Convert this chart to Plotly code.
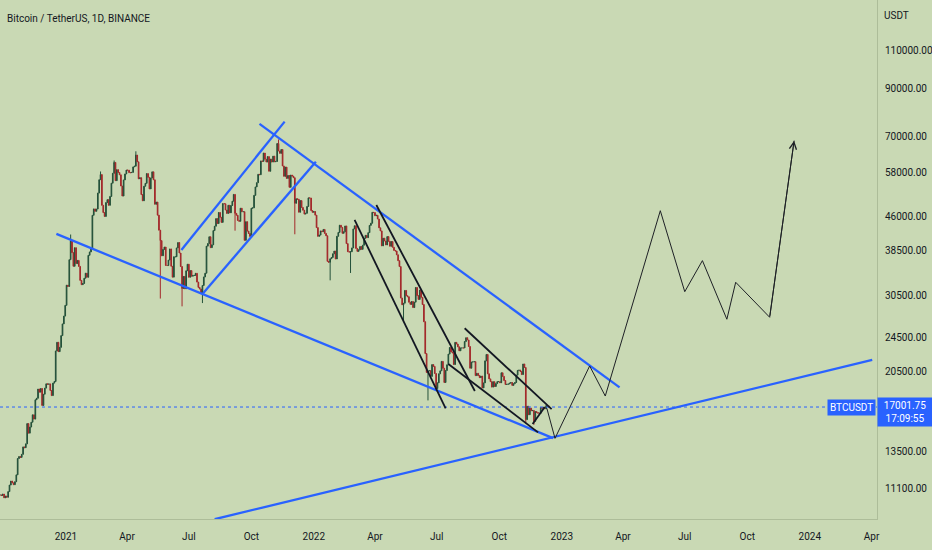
import numpy as np
import pandas as pd
import plotly.graph_objects as go

# BTC/USDT closes (thousands USDT), one value every 2 days from 2020-09-26
close_2020 = [
    10.73, 10.70, 10.78,  # Sep
    10.57, 10.67, 10.60, 10.92, 11.30, 11.54, 11.43, 11.32, 11.50, 11.92, 12.98, 13.12, 13.06, 13.27, 13.80,  # Oct
    13.74, 14.02, 15.59, 14.83, 15.31, 15.70, 16.32, 15.96, 17.66, 17.80, 18.68, 18.38, 18.73, 17.14, 18.18,  # Nov
    18.77, 19.20, 19.15, 19.19, 18.54, 18.05, 19.27, 19.43, 22.80, 23.86, 22.72, 23.24, 24.71, 26.27, 27.37, 28.95,  # Dec
]
close_2021 = [
    32.17, 31.97, 36.77, 40.58, 38.15, 35.52, 39.15, 36.02, 36.63, 35.50, 32.99, 32.26, 32.47, 33.37, 34.26,  # Jan
    33.54, 37.62, 38.29, 38.89, 46.39, 47.97, 47.37, 47.93, 52.12, 55.89, 57.41, 48.89, 47.05, 46.11,  # Feb
    49.59, 50.35, 48.88, 51.21, 54.88, 57.80, 61.18, 55.61, 58.91, 58.03, 57.35, 54.08, 51.31, 55.82, 57.60, 58.79,  # Mar
    58.75, 58.00, 57.99, 58.08, 59.77, 59.99, 63.58, 61.37, 56.15, 56.47, 51.70, 50.05, 54.02, 54.83, 57.70,  # Apr
    56.58, 53.25, 56.40, 58.24, 55.86, 49.15, 49.72, 46.43, 42.91, 40.63, 37.53, 38.80, 39.29, 35.68, 35.66,  # May
    36.69, 38.90, 35.52, 33.56, 37.34, 37.34, 39.10, 40.22, 38.08, 35.48, 31.64, 33.68, 31.58, 34.70, 35.91,  # Jun
    33.54, 34.73, 33.72, 33.86, 33.86, 34.24, 32.70, 31.80, 31.53, 30.84, 32.12, 33.59, 34.26, 39.47, 40.01, 41.46,  # Jul
    39.16, 39.75, 42.82, 43.81, 45.59, 44.43, 47.08, 45.90, 44.70, 49.32, 49.27, 47.69, 46.85, 48.89, 46.99,  # Aug
    48.83, 49.94, 51.75, 46.86, 46.40, 45.16, 44.96, 48.14, 47.27, 47.28, 40.69, 44.86, 42.70, 42.17, 41.53,  # Sep
    48.14, 48.23, 51.49, 53.81, 55.02, 57.49, 57.37, 61.67, 61.53, 64.28, 62.21, 61.31, 63.08, 58.42, 62.25, 61.30,  # Oct
    63.23, 61.38, 61.50, 67.55, 64.95, 64.16, 65.47, 60.06, 56.89, 59.70, 56.28, 57.14, 53.71, 57.27, 56.95,  # Nov
    56.48, 49.40, 50.58, 50.44, 47.14, 50.10, 48.34, 47.64, 46.68, 46.88, 48.59, 50.82, 50.77, 47.54, 47.12,  # Dec
]
close_2022 = [
    47.31, 46.43, 43.50, 41.55, 41.82, 42.74, 42.59, 43.08, 42.20, 41.67, 36.45, 36.28, 36.95, 37.20, 37.92, 38.47,  # Jan
    36.90, 41.57, 42.41, 44.04, 43.55, 42.21, 42.54, 43.87, 40.00, 38.35, 38.26, 38.33, 39.10, 43.19,  # Feb
    43.92, 39.00, 38.40, 38.73, 39.39, 38.81, 39.67, 41.12, 41.77, 41.27, 42.36, 44.00, 44.51, 47.12, 47.06,  # Mar
    46.28, 46.40, 45.50, 43.44, 42.75, 39.53, 41.15, 40.55, 39.72, 41.50, 40.48, 39.45, 40.43, 39.24, 38.60,  # Apr
    38.47, 37.72, 36.58, 35.47, 30.08, 29.03, 29.28, 31.30, 30.45, 30.29, 29.43, 29.10, 29.54, 28.62, 29.44, 31.79,  # May
    30.47, 29.86, 31.37, 30.19, 29.08, 26.57, 22.49, 20.38, 20.55, 20.57, 19.96, 21.23, 21.03, 20.26, 18.73,  # Jun
    19.30, 20.23, 20.55, 21.59, 20.83, 19.33, 20.58, 21.21, 22.43, 23.22, 22.69, 22.58, 21.24, 23.85, 23.64,  # Jul
    23.30, 22.82, 23.17, 23.17, 23.16, 23.95, 24.44, 24.15, 23.34, 20.83, 21.52, 21.53, 21.56, 20.04, 20.28, 20.05,  # Aug
    19.83, 19.99, 18.79, 19.29, 21.65, 22.39, 20.23, 19.70, 19.42, 18.87, 19.41, 18.93, 19.22, 19.42, 19.42,  # Sep
    19.31, 20.34, 19.96, 19.53, 19.13, 19.15, 19.18, 19.26, 19.33, 19.04, 19.21, 19.33, 20.09, 20.59, 20.63,  # Oct
    20.48, 20.15, 21.30, 20.91, 15.92, 17.07, 16.33, 16.90, 16.67, 16.70, 15.78, 16.60, 16.52, 16.46, 16.44,  # Nov
    16.97, 16.89, 16.97, 16.84, 17.13, 17.09, 17.00,  # Dec
]

# notable wick extremes (thousands)
wick_highs = {"2021-01-08": 41.95, "2021-02-21": 58.35, "2021-03-13": 61.80,
              "2021-04-14": 64.85, "2021-11-10": 69.00}
wick_lows = {"2021-05-20": 30.00, "2021-06-21": 28.80, "2021-07-21": 29.30,
             "2021-09-07": 42.80, "2021-12-04": 42.00, "2022-01-25": 33.00,
             "2022-02-24": 34.30, "2022-05-13": 26.70, "2022-06-18": 17.60,
             "2022-11-09": 15.60, "2022-11-21": 15.50}

last_price = 17001.75

# drawn trend lines (date, price)
wedge_low_dates = ["2020-12-18", "2022-12-19"]
wedge_low_prices = [42080, 14450]
support_dates = ["2021-08-08", "2024-04-02"]
support_prices = [9450, 21750]
wedge_high_dates = ["2021-10-13", "2023-03-27"]
wedge_high_prices = [74860, 18850]
chan_top_dates = ["2021-06-20", "2021-11-19"]
chan_top_prices = [38680, 75760]
chan_bot_dates = ["2021-07-22", "2022-01-04"]
chan_bot_prices = [30840, 61430]

black_a_dates = ["2022-04-03", "2022-08-26"]
black_a_prices = [48960, 18490]
black_b_dates = ["2022-03-02", "2022-07-14"]
black_b_prices = [45270, 16890]
black_c_dates = ["2022-07-18", "2022-11-27"]
black_c_prices = [21300, 14890]
black_d_dates = ["2022-08-11", "2022-12-17"]
black_d_prices = [25680, 16820]
black_e_dates = ["2022-11-19", "2022-12-07"]
black_e_prices = [15550, 17000]

path_dates = ["2022-12-10", "2022-12-22", "2023-02-11", "2023-03-06", "2023-05-26", "2023-07-01",
              "2023-07-27", "2023-09-01", "2023-09-14", "2023-11-03", "2023-12-09"]
path_prices = [16890, 14430, 21080, 18010, 47520, 31100, 36590, 26920, 32670, 27200, 68580]

y_ticks = [11100, 13500, 20500, 24500, 30500, 38500, 46000, 58000, 70000, 90000, 110000]
x_ticks = ["2021-01-01", "2021-04-01", "2021-07-01", "2021-10-01", "2022-01-01", "2022-04-01",
           "2022-07-01", "2022-10-01", "2023-01-01", "2023-04-01", "2023-07-01", "2023-10-01",
           "2024-01-01", "2024-04-01"]
x_labels = ["2021", "Apr", "Jul", "Oct", "2022", "Apr", "Jul", "Oct", "2023", "Apr", "Jul", "Oct", "2024", "Apr"]

BG = "#c9d9b4"
BLUE = "#2962ff"
FONT = "Roboto, Arial, sans-serif"
TXT = "#131722"

closes = np.array(close_2020 + close_2021 + close_2022) * 1000
dates = pd.date_range("2020-09-26", periods=len(closes), freq="2D")
opens = np.concatenate([[closes[0]], closes[:-1]])
highs = np.maximum(opens, closes)
lows = np.minimum(opens, closes)
idx = {d.strftime("%Y-%m-%d"): i for i, d in enumerate(dates)}
for d, v in wick_highs.items():
    if d in idx:
        highs[idx[d]] = max(highs[idx[d]], v * 1000)
for d, v in wick_lows.items():
    if d in idx:
        lows[idx[d]] = min(lows[idx[d]], v * 1000)

fig = go.Figure()
fig.add_trace(go.Candlestick(
    x=dates, open=opens, high=highs, low=lows, close=closes,
    increasing=dict(line=dict(color="#24513a", width=1), fillcolor="#24513a"),
    decreasing=dict(line=dict(color="#a3282a", width=1), fillcolor="#a3282a"),
    whiskerwidth=0, showlegend=False, hoverinfo="skip",
))

x_range = ["2020-09-26", "2024-04-09"]
fig.add_trace(go.Scatter(x=x_range, y=[last_price, last_price], mode="lines",
                         line=dict(color=BLUE, width=1, dash="dot"), showlegend=False))

blue_lines = [(wedge_low_dates, wedge_low_prices), (support_dates, support_prices),
              (wedge_high_dates, wedge_high_prices), (chan_top_dates, chan_top_prices),
              (chan_bot_dates, chan_bot_prices)]
for xs, ys in blue_lines:
    fig.add_trace(go.Scatter(x=xs, y=ys, mode="lines", line=dict(color=BLUE, width=2.3),
                             showlegend=False))

black_lines = [(black_a_dates, black_a_prices), (black_b_dates, black_b_prices),
               (black_c_dates, black_c_prices), (black_d_dates, black_d_prices),
               (black_e_dates, black_e_prices)]
for xs, ys in black_lines:
    fig.add_trace(go.Scatter(x=xs, y=ys, mode="lines", line=dict(color=TXT, width=1.8),
                             showlegend=False))

fig.add_trace(go.Scatter(x=path_dates, y=path_prices, mode="lines",
                         line=dict(color="#1e2126", width=1), showlegend=False))
fig.add_annotation(x=path_dates[-1], y=np.log10(path_prices[-1]), ax=path_dates[-2],
                   ay=np.log10(path_prices[-2]), xref="x", yref="y", axref="x", ayref="y",
                   text="", showarrow=True, arrowhead=5, arrowsize=1.4, arrowwidth=1,
                   arrowcolor="#1e2126")

# header and price labels
fig.add_annotation(x=0, y=1, xref="paper", yref="paper", xanchor="left", yanchor="middle",
                   xshift=5, yshift=-18, text="Bitcoin / TetherUS, 1D, BINANCE", showarrow=False,
                   font=dict(family=FONT, size=10, color=TXT))
fig.add_annotation(x=1, y=1, xref="paper", yref="paper", xanchor="left", yanchor="middle",
                   xshift=5, yshift=-15, text="USDT", showarrow=False,
                   font=dict(family=FONT, size=10, color=TXT))
fig.add_annotation(x=1, y=np.log10(last_price), xref="paper", yref="y", xanchor="right",
                   yanchor="middle", xshift=-1, text="BTCUSDT", showarrow=False, bgcolor=BLUE,
                   borderpad=2, font=dict(family=FONT, size=10, color="white"))
fig.add_annotation(x=1, y=np.log10(last_price), xref="paper", yref="y", xanchor="left",
                   yanchor="top", yshift=10, text="17001.75<br>17:09:55", showarrow=False,
                   bgcolor=BLUE, borderpad=2, width=50, align="center",
                   font=dict(family=FONT, size=10, color="white"))

fig.update_layout(
    width=932, height=550,
    margin=dict(l=0, r=55, t=0, b=31),
    paper_bgcolor=BG, plot_bgcolor=BG,
    font=dict(family=FONT, size=10, color=TXT),
    showlegend=False,
    xaxis=dict(type="date", range=x_range, rangeslider=dict(visible=False),
               tickvals=x_ticks, ticktext=x_labels, showgrid=False, zeroline=False,
               showline=True, linecolor="#adbd99", linewidth=1, ticks="",
               ticklabelstandoff=8, tickfont=dict(family=FONT, size=10, color=TXT)),
    yaxis=dict(type="log", side="right", range=[np.log10(9460), np.log10(143200)],
               tickvals=y_ticks, ticktext=[f"{v:.2f}" for v in y_ticks], showgrid=False,
               zeroline=False, showline=True, linecolor="#adbd99", linewidth=1, ticks="",
               ticklabelstandoff=5, tickfont=dict(family=FONT, size=10, color=TXT)),
)

# page body has a default margin; drop it so the figure sits at the window corner
fig.write_html("out.html", config={"displayModeBar": False},
               post_script="document.body.style.margin='0';"
                           "document.body.style.background='%s';" % BG)
